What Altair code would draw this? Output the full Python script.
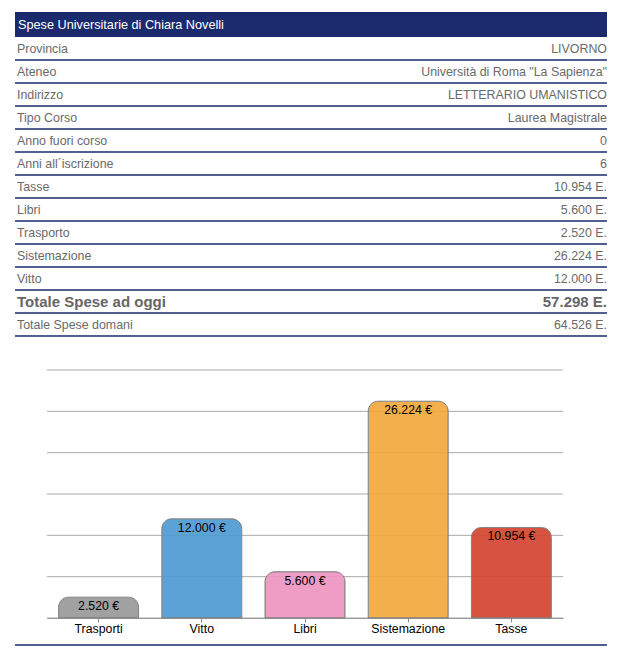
import altair as alt
import pandas as pd

header_title = "Spese Universitarie di Chiara Novelli"
row_labels = ["Provincia", "Ateneo", "Indirizzo", "Tipo Corso", "Anno fuori corso",
              "Anni all\u00b4iscrizione", "Tasse", "Libri", "Trasporto", "Sistemazione",
              "Vitto", "Totale Spese ad oggi", "Totale Spese domani"]
row_values = ["LIVORNO", "Universit\u00e0 di Roma \"La Sapienza\"", "LETTERARIO UMANISTICO",
              "Laurea Magistrale", "0", "6", "10.954 E.", "5.600 E.", "2.520 E.",
              "26.224 E.", "12.000 E.", "57.298 E.", "64.526 E."]
row_bold = [False] * 11 + [True, False]

categories = ["Trasporti", "Vitto", "Libri", "Sistemazione", "Tasse"]
amounts = [2520, 12000, 5600, 26224, 10954]
bar_colors = ["#999999", "#4f9bd4", "#ee95bf", "#f4a93e", "#d2452f"]
grid_values = [0, 5000, 10000, 15000, 20000, 25000, 30000]

NAVY = "#1a2a6c"
FONT = "Liberation Sans"
TW = 592
TH = 299

tbl = pd.DataFrame({"row": list(range(1, 14)), "label": row_labels,
                    "value": row_values, "bold": row_bold})
hdr = pd.DataFrame({"row": [0], "label": [header_title]})

# header strip
hdr_rect = alt.Chart(hdr).mark_bar(color=NAVY).encode(
    y=alt.value(0), y2=alt.value(25), x=alt.value(0), x2=alt.value(TW))
hdr_text = alt.Chart(hdr).mark_text(align="left", baseline="middle", color="white",
                                    font=FONT, fontSize=12.7).encode(
    y=alt.value(12.5), x=alt.value(3), text="label:N")
header = alt.layer(hdr_rect, hdr_text).properties(width=TW, height=25)

ysc = alt.Scale(domain=list(range(1, 14)), paddingInner=0, paddingOuter=0)
yenc = alt.Y("row:O", scale=ysc, axis=None)

normal = alt.Chart(tbl).transform_filter("!datum.bold")
bold = alt.Chart(tbl).transform_filter("datum.bold")

lab_n = normal.mark_text(align="left", baseline="middle", color="#6a6a6a",
                         font=FONT, fontSize=12.4).encode(
    y=yenc, x=alt.value(2), text="label:N")
val_n = normal.mark_text(align="right", baseline="middle", color="#6a6a6a",
                         font=FONT, fontSize=12.4).encode(
    y=yenc, x=alt.value(TW), text="value:N")
lab_b = bold.mark_text(align="left", baseline="middle", color="#666666",
                       font=FONT, fontSize=15, fontWeight="bold").encode(
    y=yenc, x=alt.value(2), text="label:N")
val_b = bold.mark_text(align="right", baseline="middle", color="#666666",
                       font=FONT, fontSize=15, fontWeight="bold").encode(
    y=yenc, x=alt.value(TW), text="value:N")
rules = alt.Chart(tbl).mark_rule(color=NAVY, strokeWidth=1.5).encode(
    y=alt.Y("row:O", scale=ysc, axis=None, bandPosition=1))

table = alt.layer(lab_n, val_n, lab_b, val_b, rules).properties(width=TW, height=TH)

# bar chart
bars_df = pd.DataFrame({"cat": categories, "amount": amounts, "color": bar_colors})
bars_df["label"] = [f"{v:,}".replace(",", ".") + " \u20ac" for v in amounts]
grid_df = pd.DataFrame({"v": grid_values})

BH = 248
xsc = alt.Scale(domain=categories, range=[32, 548], paddingInner=0.225, paddingOuter=0.1125)
ysc2 = alt.Scale(domain=[0, 30000])

xenc = alt.X("cat:N", scale=xsc, sort=categories, title=None,
             axis=alt.Axis(labelAngle=0, labelFont=FONT, labelFontSize=12.3,
                           labelColor="#000000", domainColor="#888888", tickColor="#888888",
                           tickSize=4, labelPadding=0, grid=False))

grid = alt.Chart(grid_df).mark_rule(color="#aaaaaa", strokeWidth=1).encode(
    y=alt.Y("v:Q", scale=ysc2, axis=None), x=alt.value(32), x2=alt.value(548))

bars = alt.Chart(bars_df).mark_bar(cornerRadiusTopLeft=10, cornerRadiusTopRight=10,
                                   opacity=0.92, stroke="#808080", strokeWidth=1).encode(
    x=xenc,
    y=alt.Y("amount:Q", scale=ysc2, axis=None),
    color=alt.Color("color:N", scale=None))

texts = alt.Chart(bars_df).mark_text(baseline="top", dy=3, font=FONT, fontSize=12.3,
                                     color="#000000").encode(
    x=alt.X("cat:N", scale=xsc, sort=categories),
    y=alt.Y("amount:Q", scale=ysc2, axis=None),
    text="label:N")

bottom_line = alt.Chart(grid_df.head(1)).mark_rule(color=NAVY, strokeWidth=1.5).encode(
    y=alt.value(BH + 27), x=alt.value(0), x2=alt.value(TW))

barchart = alt.layer(grid, bars, texts, bottom_line).properties(width=TW, height=BH)

top = alt.vconcat(header, table, spacing=0)
chart = alt.vconcat(top, barchart, spacing=32).properties(
    padding={"left": 6, "top": 4, "right": 0, "bottom": 0}
).configure_view(stroke=None)

chart.save("out.html", embed_options={"renderer": "svg", "actions": False})
